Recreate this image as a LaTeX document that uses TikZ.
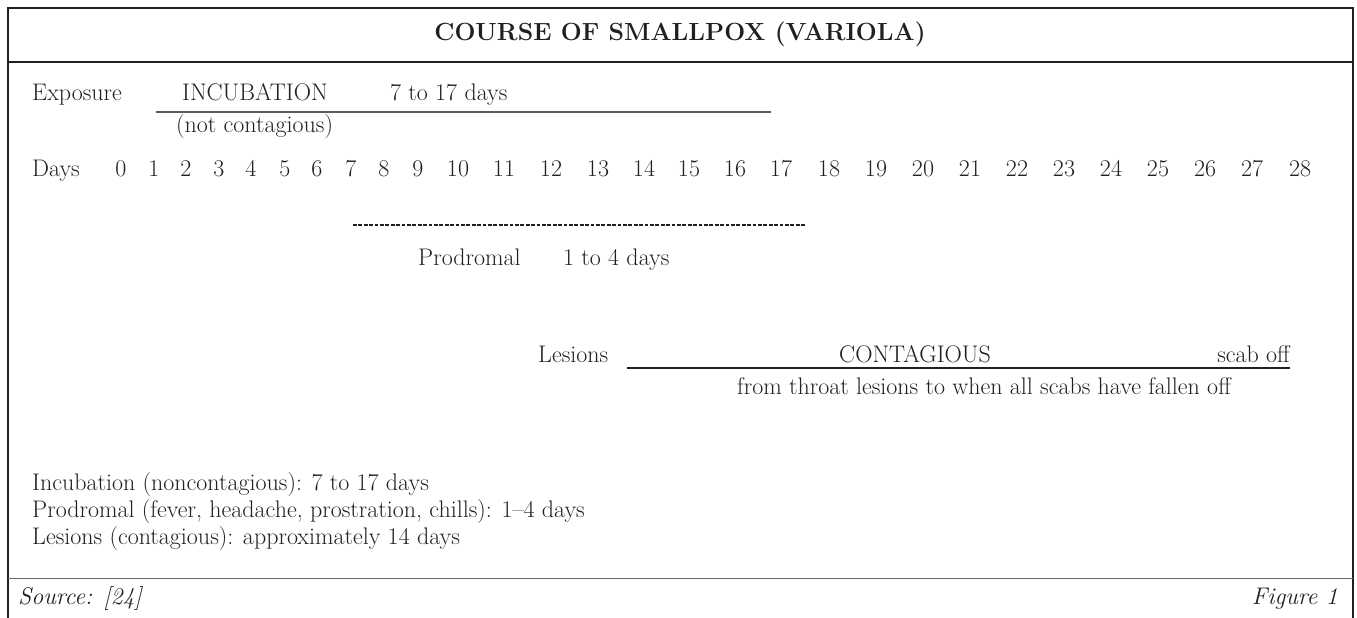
\documentclass[tikz,border=0pt]{standalone}
\usepackage{graphicx}
\definecolor{ink}{HTML}{231F20}
\definecolor{rule}{HTML}{6A6A6A}
\begin{document}
\begin{tikzpicture}[x=1pt,y=-1pt,
  txt/.style={inner sep=0pt, anchor=base west, font=\fontsize{24}{28}\selectfont, text=ink},
  ctxt/.style={inner sep=0pt, anchor=base, font=\fontsize{24}{28}\selectfont, text=ink},
  rtxt/.style={inner sep=0pt, anchor=base east, font=\fontsize{24}{28}\selectfont, text=ink},
  num/.style={inner sep=0pt, anchor=base, font=\fontsize{24}{28}\selectfont, text=ink},
  frameline/.style={line width=2pt, draw=ink},
  bar/.style={line width=1.4pt, draw=ink},
  dashbar/.style={line width=2pt, draw=ink, dash pattern=on 3.8pt off 1.6pt}
]
\useasboundingbox (0,0) rectangle (1357,618);
% frame
\coordinate (fbl) at (8,625);
\coordinate (ftl) at (8,7.7);
\coordinate (ftr) at (1352.5,7.7);
\coordinate (fbr) at (1352.5,625);
\draw[frameline] (fbl) -- (ftl) -- (ftr) -- (fbr);
\coordinate (hl) at (8,62);
\coordinate (hr) at (1352.5,62);
\draw[frameline, line width=1.8pt] (hl) -- (hr);
\coordinate (fl) at (8,578.5);
\coordinate (fr) at (1352.5,578.5);
\draw[line width=1.7pt, draw=rule] (fl) -- (fr);

% title
\node[ctxt, font=\fontsize{24.8}{28}\selectfont\bfseries] (title) at (680,41) {COURSE OF SMALLPOX (VARIOLA)};

% incubation row
\node[txt] (exposure) at (32,100) {Exposure};
\node[txt] (incub) at (182,100) {INCUBATION};
\node[txt] (incdays) at (390,100) {7 to 17 days};
\coordinate (incA) at (156,112);
\coordinate (incB) at (771,112);
\draw[bar, draw=rule!80!ink, line width=1.5pt] (incA) -- (incB);
\node[txt] (notcont) at (176,132) {(not contagious)};

% days row
\node[txt] (days) at (32,176) {Days};
\foreach \d/\x in {0/121,1/154,2/186,3/219,4/251,5/285,6/317,7/351,8/384,9/418,
  10/458,11/504,12/551,13/598,14/644,15/689,16/735,17/781,18/829,19/876,20/923,
  21/970,22/1017,23/1064,24/1111,25/1158,26/1205,27/1252,28/1300}{
  \node[num] (d\d) at (\x,176) {\d};
}

% prodromal
\coordinate (proA) at (353,225);
\coordinate (proB) at (806,225);
\draw[dashbar] (proA) -- (proB);
\node[txt] (prod) at (418,265) {Prodromal};
\node[txt] (proddays) at (563,265) {1 to 4 days};

% lesions
\node[txt] (les) at (538,362) {Lesions};
\node[ctxt] (cont) at (915,362) {CONTAGIOUS};
\node[rtxt] (scab) at (1290,362) {scab off};
\coordinate (lesA) at (627,368);
\coordinate (lesB) at (1290,368);
\draw[bar] (lesA) -- (lesB);
\node[ctxt] (throat) at (984,394) {from throat lesions to when all scabs have fallen off};

% summary
\node[txt] (s1) at (32,490) {Incubation (noncontagious): 7 to 17 days};
\node[txt] (s2) at (32,517) {Prodromal (fever, headache, prostration, chills): 1--4 days};
\node[txt] (s3) at (32,544) {Lesions (contagious): approximately 14 days};

% footer
\node[txt, font=\fontsize{24}{28}\selectfont\itshape] (src) at (18,604) {Source: [24]};
\node[rtxt, font=\fontsize{24}{28}\selectfont\itshape] (fig) at (1338,604) {Figure 1};
\end{tikzpicture}
\end{document}
